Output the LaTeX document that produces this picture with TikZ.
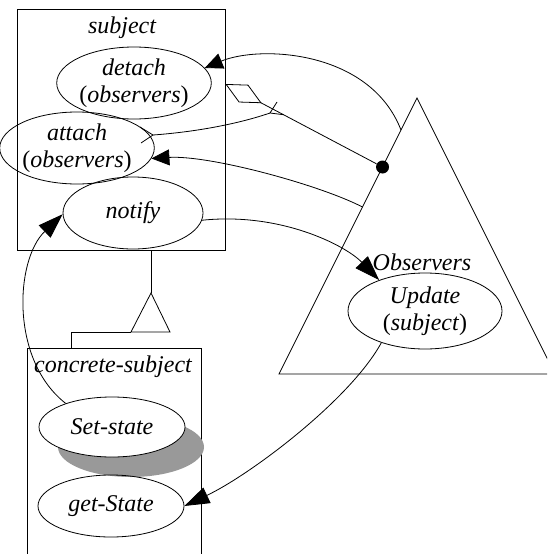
\documentclass[tikz,border=0pt]{standalone}
\usepackage{fontspec}
\setmainfont{Liberation Serif}
\usetikzlibrary{arrows.meta,shapes.geometric,calc}
\begin{document}
\begin{tikzpicture}[x=1pt,y=-1pt, line width=0.8pt,
  lbl/.style={font=\fontsize{24}{27}\selectfont\itshape, align=center, inner sep=0pt},
  oval/.style={draw, ellipse, inner sep=0pt, minimum width=140pt, minimum height=72pt, lbl},
  box/.style={draw, rectangle, inner sep=0pt},
  bigtip/.style={-{Triangle[length=25pt,width=17pt]}},
  smalltip/.style={-{Triangle[length=18pt,width=16pt]}},
  aggr/.style={-{Diamond[open,length=41pt,width=20pt]}},
  shadowgray/.style={fill=black!40},
]
\clip (0,0) rectangle (547,554);
% subject class
\node[box, minimum width=208pt, minimum height=241pt] (subject) at (121,129.5) {};
\node[lbl] (subjectlabel) at (122,28) {subject};
\node[oval] (detach) at (134,83) {detach\\\textup{(}observers\textup{)}};
\node[oval] (attach) at (77,148) {attach\\\textup{(}observers\textup{)}};
\node[oval] (notify) at (133,213) {notify};
% concrete subject
\node[box, minimum width=174pt, minimum height=252pt] (concrete) at (114,474) {};
\node[lbl] (concretelabel) at (113,367) {concrete-subject};
\fill[shadowgray] (131,447) ellipse [x radius=73pt, y radius=30pt];
\node[oval, fill=white, minimum width=146pt, minimum height=60pt] (setstate) at (112,427) {Set-state};
\node[oval, minimum width=146pt, minimum height=62pt] (getstate) at (111,506) {get-State};
% generalization
\coordinate (gapex) at (151,293);
\coordinate (gleft) at (131,332);
\coordinate (gright) at (170,332);
\coordinate (gbend) at (71,332);
\draw (subject.south -| gapex) -- (gapex);
\draw (gapex) -- (gleft) -- (gright) -- cycle;
\draw (gleft) -- (gbend) -- (concrete.north -| gbend);
% observers
\coordinate (tA) at (417,98);
\coordinate (tL) at (279,374);
\coordinate (tR) at (555,374);
\draw (tA) -- (tL) -- (tR) -- cycle;
\node[lbl] (obslabel) at (422,262) {Observers};
\node[oval, minimum width=154pt, minimum height=76pt] (update) at (425,311) {Update\\\textup{(}subject\textup{)}};
\node[circle, fill, inner sep=0pt, minimum size=13pt] (dot) at ($(tA)!0.25!(tL)$) {};
\coordinate (aggtip) at (subject.east |- 0,84);
% connectors
\draw[smalltip] ($(tA)!0.116!(tL)$) .. controls (370,50) and (260,45) .. (detach.12);
\draw[aggr] (dot) -- (aggtip);
% attach link with open V marks at both ends
\coordinate (attL) at (153,135);
\coordinate (attR) at (270,113);
\draw (attL) .. controls (195,132) and (238,124) .. (attR);
\draw ($(attL)+(-13,-8)$) -- (attL) -- ($(attL)+(-12,8)$);
\draw (277,102) -- (attR) -- ($(dot)!0.63!(aggtip)$);
\draw[smalltip] ($(tA)!0.395!(tL)$) .. controls (320,185) and (210,155) .. (attach.-8);
\draw[bigtip] (notify.-6) .. controls (280,212) and (345,245) .. (update.146);
\draw[bigtip] (setstate.153) .. controls (10,360) and (15,260) .. (notify.181);
\draw[bigtip] (update.216) .. controls (350,400) and (250,475) .. (getstate.east);
\end{tikzpicture}
\end{document}
